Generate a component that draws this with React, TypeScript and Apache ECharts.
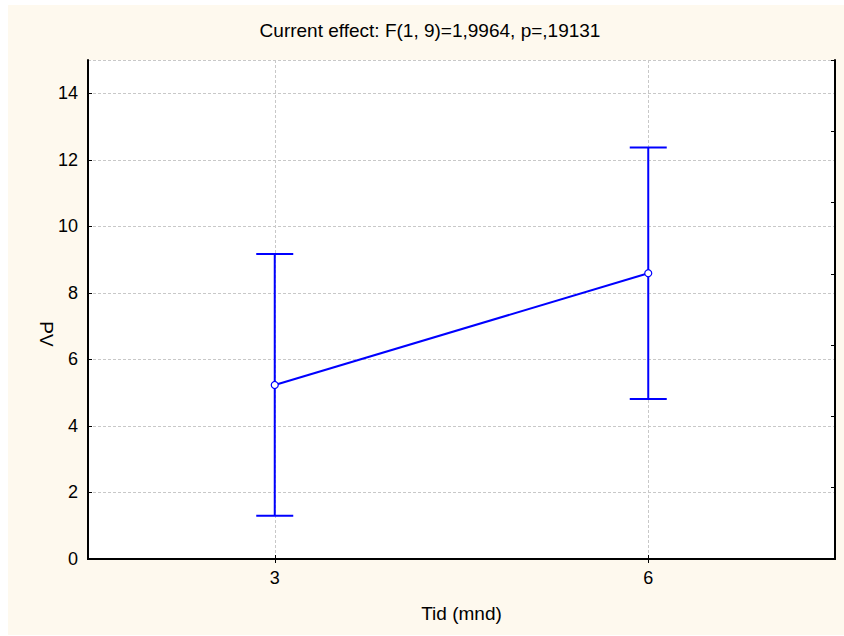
import React, { useEffect, useRef } from "react";
import * as echarts from "echarts";

const categories = ["3", "6"];
const means = [5.23, 8.59];
const lowerCI = [1.3, 4.81];
const upperCI = [9.17, 12.37];
const titleText = "Current effect: F(1, 9)=1,9964, p=,19131";
const xName = "Tid (mnd)";
const yName = "PV";

const FONT = "'Liberation Sans', Arial, sans-serif";
const BLUE = "#0000ff";

export default function App() {
  const ref = useRef<HTMLDivElement>(null);
  useEffect(() => {
    if (!ref.current) return;
    const chart = echarts.init(ref.current, null, { renderer: "svg" });
    const errData = categories.map((_, i) => [i, lowerCI[i], upperCI[i]]);
    chart.setOption({
      animation: false,
      backgroundColor: "#fef9ee",
      textStyle: { fontFamily: FONT },
      grid: {
        left: 80,
        top: 55,
        width: 747,
        height: 499,
        show: true,
        backgroundColor: "#ffffff",
        borderWidth: 0,
        outerBoundsMode: "none",
      },
      graphic: [
        {
          type: "text",
          x: 422,
          y: 25,
          style: {
            text: titleText,
            fontSize: 19,
            fontFamily: FONT,
            fill: "#000",
            align: "center",
            verticalAlign: "middle",
          },
        },
        {
          type: "text",
          x: 38,
          y: 329,
          rotation: -Math.PI / 2,
          style: {
            text: yName,
            fontSize: 19,
            fontFamily: FONT,
            fill: "#000",
            align: "center",
            verticalAlign: "middle",
          },
        },
      ],
      xAxis: [
        {
          type: "category",
          data: categories,
          boundaryGap: true,
          position: "bottom",
          name: xName,
          nameLocation: "middle",
          nameGap: 45,
          nameTextStyle: { fontSize: 19, color: "#000", fontFamily: FONT },
          axisLine: { show: true, lineStyle: { color: "#000", width: 2 } },
          axisTick: { show: true, inside: true, alignWithLabel: true, length: 4, lineStyle: { color: "#000" } },
          axisLabel: { fontSize: 18, color: "#000", margin: 10, fontFamily: FONT },
          splitLine: {
            show: true,
            alignWithLabel: true,
            lineStyle: { color: "#c8c8c8", type: [3, 2], width: 1 },
          },
        },
        {
          type: "category",
          data: categories,
          boundaryGap: true,
          position: "top",
          axisLine: { show: true, lineStyle: { color: "#000", width: 2 } },
          axisTick: { show: true, inside: true, alignWithLabel: true, length: 4, lineStyle: { color: "#000" } },
          axisLabel: { show: false },
          splitLine: { show: false },
        },
      ],
      yAxis: [
        {
          type: "value",
          min: 0,
          max: 15,
          interval: 2,
          position: "left",
          axisLine: { show: true, lineStyle: { color: "#000", width: 2 } },
          axisTick: { show: true, inside: true, length: 4, lineStyle: { color: "#000" } },
          axisLabel: { fontSize: 18, color: "#000", margin: 10, showMaxLabel: false, fontFamily: FONT },
          splitLine: { show: true, lineStyle: { color: "#c8c8c8", type: [3, 2], width: 1 } },
        },
        {
          type: "value",
          min: 0,
          max: 7,
          interval: 1,
          position: "right",
          axisLine: { show: true, lineStyle: { color: "#000", width: 2 } },
          axisTick: { show: true, inside: true, length: 4, lineStyle: { color: "#000" } },
          axisLabel: { show: false },
          splitLine: { show: false },
        },
      ],
      series: [
        {
          type: "custom",
          xAxisIndex: 0,
          yAxisIndex: 0,
          data: errData,
          z: 2,
          renderItem: (params: any, api: any) => {
            const lo = api.coord([api.value(0), api.value(1)]);
            const hi = api.coord([api.value(0), api.value(2)]);
            const hw = 18.5;
            const style = { stroke: BLUE, lineWidth: 2, fill: "none" };
            return {
              type: "group",
              children: [
                { type: "line", shape: { x1: lo[0], y1: lo[1], x2: hi[0], y2: hi[1] }, style },
                { type: "line", shape: { x1: lo[0] - hw, y1: lo[1], x2: lo[0] + hw, y2: lo[1] }, style },
                { type: "line", shape: { x1: hi[0] - hw, y1: hi[1], x2: hi[0] + hw, y2: hi[1] }, style },
              ],
            };
          },
        },
        {
          type: "line",
          xAxisIndex: 0,
          yAxisIndex: 0,
          data: means,
          z: 3,
          symbol: "circle",
          symbolSize: 7,
          showSymbol: true,
          lineStyle: { color: BLUE, width: 2 },
          itemStyle: { color: "#ffffff", borderColor: BLUE, borderWidth: 1.2 },
        },
      ],
    });
    return () => chart.dispose();
  }, []);
  return (
    <div
      style={{
        position: "absolute",
        left: 8,
        top: 5,
        width: 836,
        height: 630,
        background: "#fef9ee",
      }}
    >
      <div ref={ref} style={{ width: 836, height: 630 }} />
    </div>
  );
}
